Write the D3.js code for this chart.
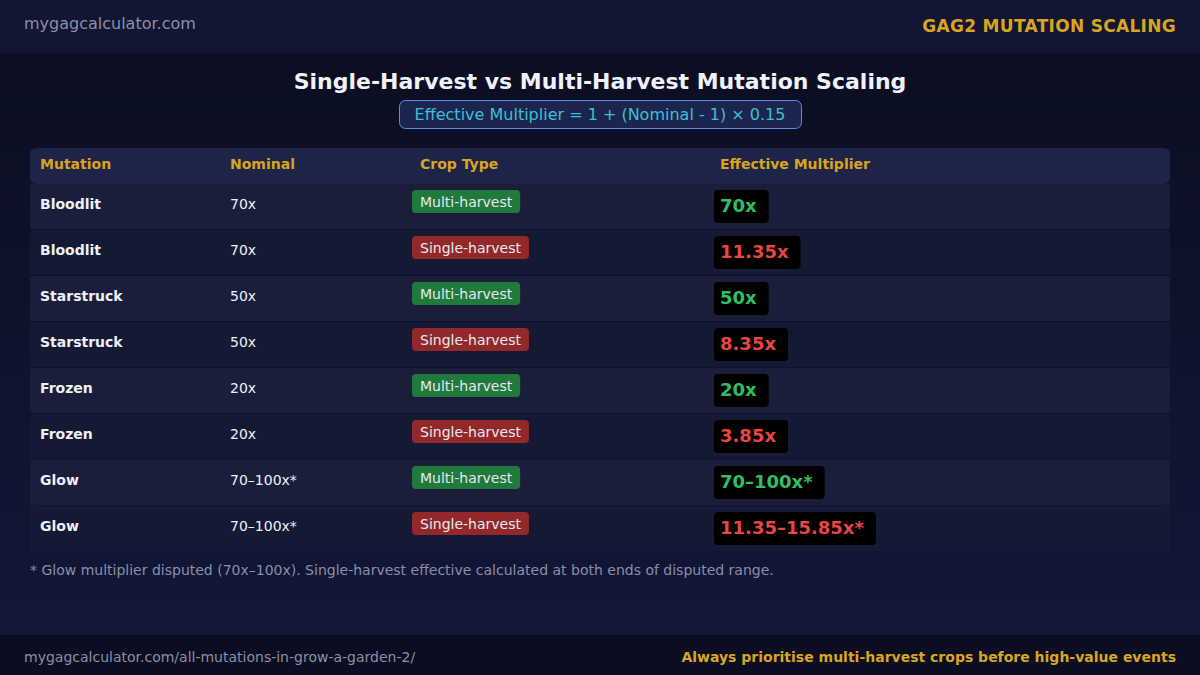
<!DOCTYPE html>
<html><head><meta charset="utf-8">
<script src="https://cdn.jsdelivr.net/npm/d3@7"></script>
<style>body{margin:0;background:#0c0f22;font-family:"DejaVu Sans",sans-serif}</style>
</head><body><div id="chart"></div>
<script>
const mutations = ['Bloodlit', 'Bloodlit', 'Starstruck', 'Starstruck', 'Frozen', 'Frozen', 'Glow', 'Glow'];
const nominal = ['70x', '70x', '50x', '50x', '20x', '20x', '70–100x*', '70–100x*'];
const cropTypes = ['Multi-harvest', 'Single-harvest', 'Multi-harvest', 'Single-harvest', 'Multi-harvest', 'Single-harvest', 'Multi-harvest', 'Single-harvest'];
const effective = ['70x', '11.35x', '50x', '8.35x', '20x', '3.85x', '70–100x*', '11.35–15.85x*'];
const headers = ['Mutation', 'Nominal', 'Crop Type', 'Effective Multiplier'];

const W = 1200, H = 675;
const svg = d3.select('#chart').append('svg').attr('width', W).attr('height', H);

const defs = svg.append('defs');
const grad = defs.append('linearGradient').attr('id', 'bg').attr('x1', 0).attr('y1', 0).attr('x2', 0).attr('y2', 1);
grad.append('stop').attr('offset', '0%').attr('stop-color', '#0b0e1f');
grad.append('stop').attr('offset', '100%').attr('stop-color', '#13173a');
svg.append('rect').attr('width', W).attr('height', H).attr('fill', 'url(#bg)');

// top and bottom bands
svg.append('rect').attr('width', W).attr('height', 53).attr('fill', '#121633');
svg.append('rect').attr('y', 635).attr('width', W).attr('height', 40).attr('fill', '#0b0e20');
svg.append('text').attr('x', 24).attr('y', 29).attr('fill', '#8a8fa8').attr('font-size', 16).text('mygagcalculator.com');
svg.append('text').attr('x', 1176).attr('y', 32).attr('text-anchor', 'end').attr('fill', '#d9a520')
  .attr('font-size', 17).attr('font-weight', 'bold').attr('letter-spacing', 0.3).text('GAG2 MUTATION SCALING');
svg.append('text').attr('x', 24).attr('y', 662).attr('fill', '#8a8fa8').attr('font-size', 14)
  .text('mygagcalculator.com/all-mutations-in-grow-a-garden-2/');
svg.append('text').attr('x', 1176).attr('y', 662).attr('text-anchor', 'end').attr('fill', '#d9a520')
  .attr('font-size', 14).attr('font-weight', 'bold').text('Always prioritise multi-harvest crops before high-value events');

// title
svg.append('text').attr('x', 600).attr('y', 89).attr('text-anchor', 'middle').attr('fill', '#f0f2fa')
  .attr('font-size', 22).attr('font-weight', 'bold').text('Single-Harvest vs Multi-Harvest Mutation Scaling');
svg.append('rect').attr('x', 399.5).attr('y', 100.5).attr('width', 402).attr('height', 28).attr('rx', 6)
  .attr('fill', '#1c2550').attr('stroke', '#5b8ee6');
svg.append('text').attr('x', 600).attr('y', 120).attr('text-anchor', 'middle').attr('fill', '#3cc0cf')
  .attr('font-size', 16).text('Effective Multiplier = 1 + (Nominal - 1) × 0.15');

// table
const colX = [40, 230, 412, 714];
const y = d3.scaleBand().domain(d3.range(mutations.length)).range([184, 552]).paddingInner(0);

svg.append('rect').attr('x', 30).attr('y', 148).attr('width', 1140).attr('height', 36).attr('rx', 6).attr('fill', '#1d2447');
svg.selectAll('.hdr').data(headers).join('text')
  .attr('x', (d, i) => colX[i] + (i >= 2 ? 8 : 0) - (i === 3 ? 2 : 0)).attr('y', 169)
  .attr('fill', '#d9a520').attr('font-size', 14).attr('font-weight', 'bold').text(d => d);

const rows = svg.selectAll('.row').data(mutations).join('g')
  .attr('transform', (d, i) => `translate(0,${y(i)})`);
rows.append('rect').attr('x', 30).attr('width', 1140).attr('height', y.bandwidth() - 1).attr('rx', 3)
  .attr('fill', (d, i) => i % 2 === 0 ? '#1a1e3b' : '#151a34');
rows.append('text').attr('x', colX[0]).attr('y', 25).attr('fill', '#eef0f8')
  .attr('font-size', 14).attr('font-weight', 'bold').text(d => d);
rows.append('text').attr('x', colX[1]).attr('y', 25).attr('fill', '#eef0f8')
  .attr('font-size', 14).text((d, i) => nominal[i]);

const multi = i => cropTypes[i] === 'Multi-harvest';
rows.each(function (d, i) {
  const g = d3.select(this);
  const bt = g.append('text').attr('x', colX[2] + 8).attr('y', 23).attr('fill', '#e6e8f0')
    .attr('font-size', 14).text(cropTypes[i]);
  const bw = bt.node().getComputedTextLength() + 16;
  g.insert('rect', () => bt.node()).attr('x', colX[2]).attr('y', 6).attr('width', bw).attr('height', 23).attr('rx', 4)
    .attr('fill', multi(i) ? '#1f7a3c' : '#92282a');
  const vt = g.append('text').attr('x', colX[3] + 6).attr('y', 28).attr('fill', multi(i) ? '#2fbf62' : '#e84545')
    .attr('font-size', 18).attr('font-weight', 'bold').text(effective[i]);
  const vw = vt.node().getComputedTextLength() + 18;
  g.insert('rect', () => vt.node()).attr('x', colX[3]).attr('y', 6).attr('width', vw).attr('height', 33).attr('rx', 4)
    .attr('fill', '#000');
});

svg.append('text').attr('x', 30).attr('y', 575).attr('fill', '#8a8fa8').attr('font-size', 14)
  .text('* Glow multiplier disputed (70x–100x). Single-harvest effective calculated at both ends of disputed range.');
</script></body></html>
